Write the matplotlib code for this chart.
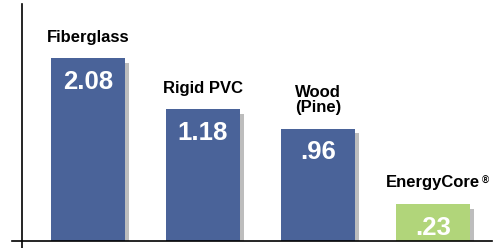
import matplotlib
matplotlib.use("Agg")
import matplotlib.pyplot as plt

# data (bar heights are the drawn heights, not to scale with labels)
categories = ["Fiberglass", "Rigid PVC", "Wood\n(Pine)", "EnergyCore"]
value_labels = ["2.08", "1.18", ".96", ".23"]
bar_heights = [182.4, 131.4, 112.2, 36.6]
bar_colors = ["#4a6399", "#4a6399", "#4a6399", "#b1d57a"]

plt.rcParams["font.family"] = ["Liberation Sans", "DejaVu Sans"]

fig = plt.figure(figsize=(4.98, 2.48), dpi=100)
ax = fig.add_axes([0, 0, 1, 1])

x = list(range(len(categories)))
width = 0.644
shadow_dx = 0.039
shadow_dy = 4.5

# drop shadows
ax.bar([i + shadow_dx for i in x], [h - shadow_dy for h in bar_heights],
       width=width, color="#bdbdbd", zorder=1)
ax.bar(x, bar_heights, width=width, color=bar_colors, zorder=2)

for i, (cat, val, h) in enumerate(zip(categories, value_labels, bar_heights)):
    ax.annotate(cat, (i, h), xytext=(0, 12), textcoords="offset points",
                ha="center", va="baseline", fontsize=12, fontweight="bold",
                linespacing=1.0, zorder=3)
    ax.annotate(val, (i, h), xytext=(0, -8.5), textcoords="offset points",
                ha="center", va="top", fontsize=18.5, fontweight="bold",
                color="white", zorder=3)

# axis lines
ax.axhline(0, xmin=12 / 498, xmax=491.7 / 498, color="black", lw=1.2, zorder=4)
ax.axvline(-0.577, ymin=0, ymax=244 / 248, color="black", lw=1.2, zorder=4)

ax.set_xlim(-0.766, 3.568)
ax.set_ylim(-7.3, 240.7)
ax.axis("off")

# small registered mark after EnergyCore
fig.canvas.draw()
r = fig.canvas.get_renderer()
lab = ax.texts[-2]
bb = lab.get_window_extent(r)
fig.text(bb.x1 / fig.bbox.width + 0.004, bb.y1 / fig.bbox.height, "\u00ae",
         ha="left", va="top", fontsize=7, fontweight="bold")

fig.savefig("out.png", dpi=100, facecolor="white")
